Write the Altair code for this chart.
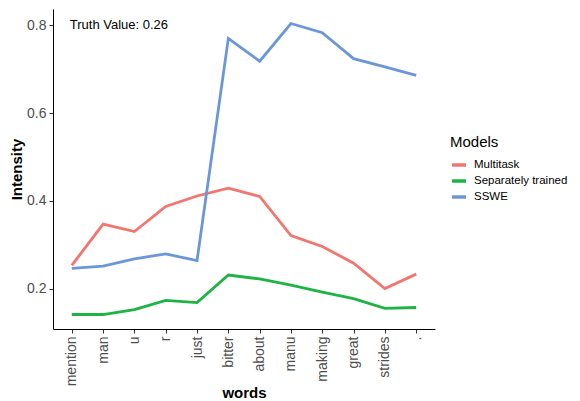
import altair as alt
import pandas as pd

words = ["mention", "man", "u", "r", "just", "bitter", "about", "manu", "making", "great", "strides", "."]
multitask = [0.253, 0.347, 0.330, 0.387, 0.411, 0.429, 0.410, 0.321, 0.296, 0.258, 0.200, 0.233]
separately = [0.141, 0.141, 0.152, 0.173, 0.168, 0.231, 0.222, 0.208, 0.192, 0.177, 0.155, 0.157]
sswe = [0.246, 0.251, 0.268, 0.279, 0.264, 0.770, 0.718, 0.804, 0.783, 0.724, 0.705, 0.686]
models = ["Multitask", "Separately trained", "SSWE"]
colors = ["#F2766D", "#1DB443", "#6B97D8"]

rows = []
for name, vals in zip(models, [multitask, separately, sswe]):
    for w, v in zip(words, vals):
        rows.append({"words": w, "Intensity": v, "Models": name})
df = pd.DataFrame(rows)

font = "Liberation Sans"

x_enc = alt.X("words:N", sort=words,
              scale=alt.Scale(type="point", padding=0.6),
              axis=alt.Axis(title="words", labelAngle=-90, labelFontSize=14, labelColor="#4D4D4D",
                            labelPadding=3, tickSize=4, tickColor="#333333", domainColor="#000000",
                            titleFontSize=15, titleFontWeight="bold", titleColor="#000000", titlePadding=0,
                            labelFont=font, titleFont=font))
y_enc = alt.Y("Intensity:Q",
              scale=alt.Scale(domain=[0.108, 0.837], nice=False, zero=False),
              axis=alt.Axis(title="Intensity", values=[0.2, 0.4, 0.6, 0.8], format=".1f",
                            labelFontSize=14, labelColor="#4D4D4D", labelPadding=3, tickSize=4,
                            tickColor="#333333", domainColor="#000000", grid=False,
                            titleFontSize=15, titleFontWeight="bold", titleColor="#000000", titlePadding=2,
                            labelFont=font, titleFont=font))

lines = alt.Chart(df).mark_line(strokeWidth=2.8).encode(
    x=x_enc,
    y=y_enc,
    color=alt.Color("Models:N", sort=models,
                    scale=alt.Scale(domain=models, range=colors),
                    legend=alt.Legend(title="Models", orient="none", legendX=397, legendY=126,
                                      titleFontSize=15, titleFontWeight="normal", titleColor="#000000",
                                      labelFontSize=11.5, labelColor="#000000", titleFont=font, labelFont=font,
                                      symbolType="stroke", symbolSize=196, symbolStrokeWidth=3.5,
                                      labelOffset=6, rowPadding=0, titlePadding=6, padding=0,
                                      labelLimit=200)),
)

ann = pd.DataFrame({"words": ["mention"], "Intensity": [0.8], "label": ["Truth Value: 0.26"]})
text = alt.Chart(ann).mark_text(align="left", baseline="middle", fontSize=13, font=font,
                                color="#000000", dx=-2).encode(
    x=alt.X("words:N", sort=words), y="Intensity:Q", text="label:N")

chart = alt.layer(lines, text).properties(
    width=382, height=320,
    autosize=alt.AutoSizeParams(type="none"),
    padding={"left": 45, "top": 1, "right": 137, "bottom": 72},
).configure_view(stroke=None).configure_axis(grid=False)

chart.save("out.html", embed_options={"renderer": "svg", "actions": False})
